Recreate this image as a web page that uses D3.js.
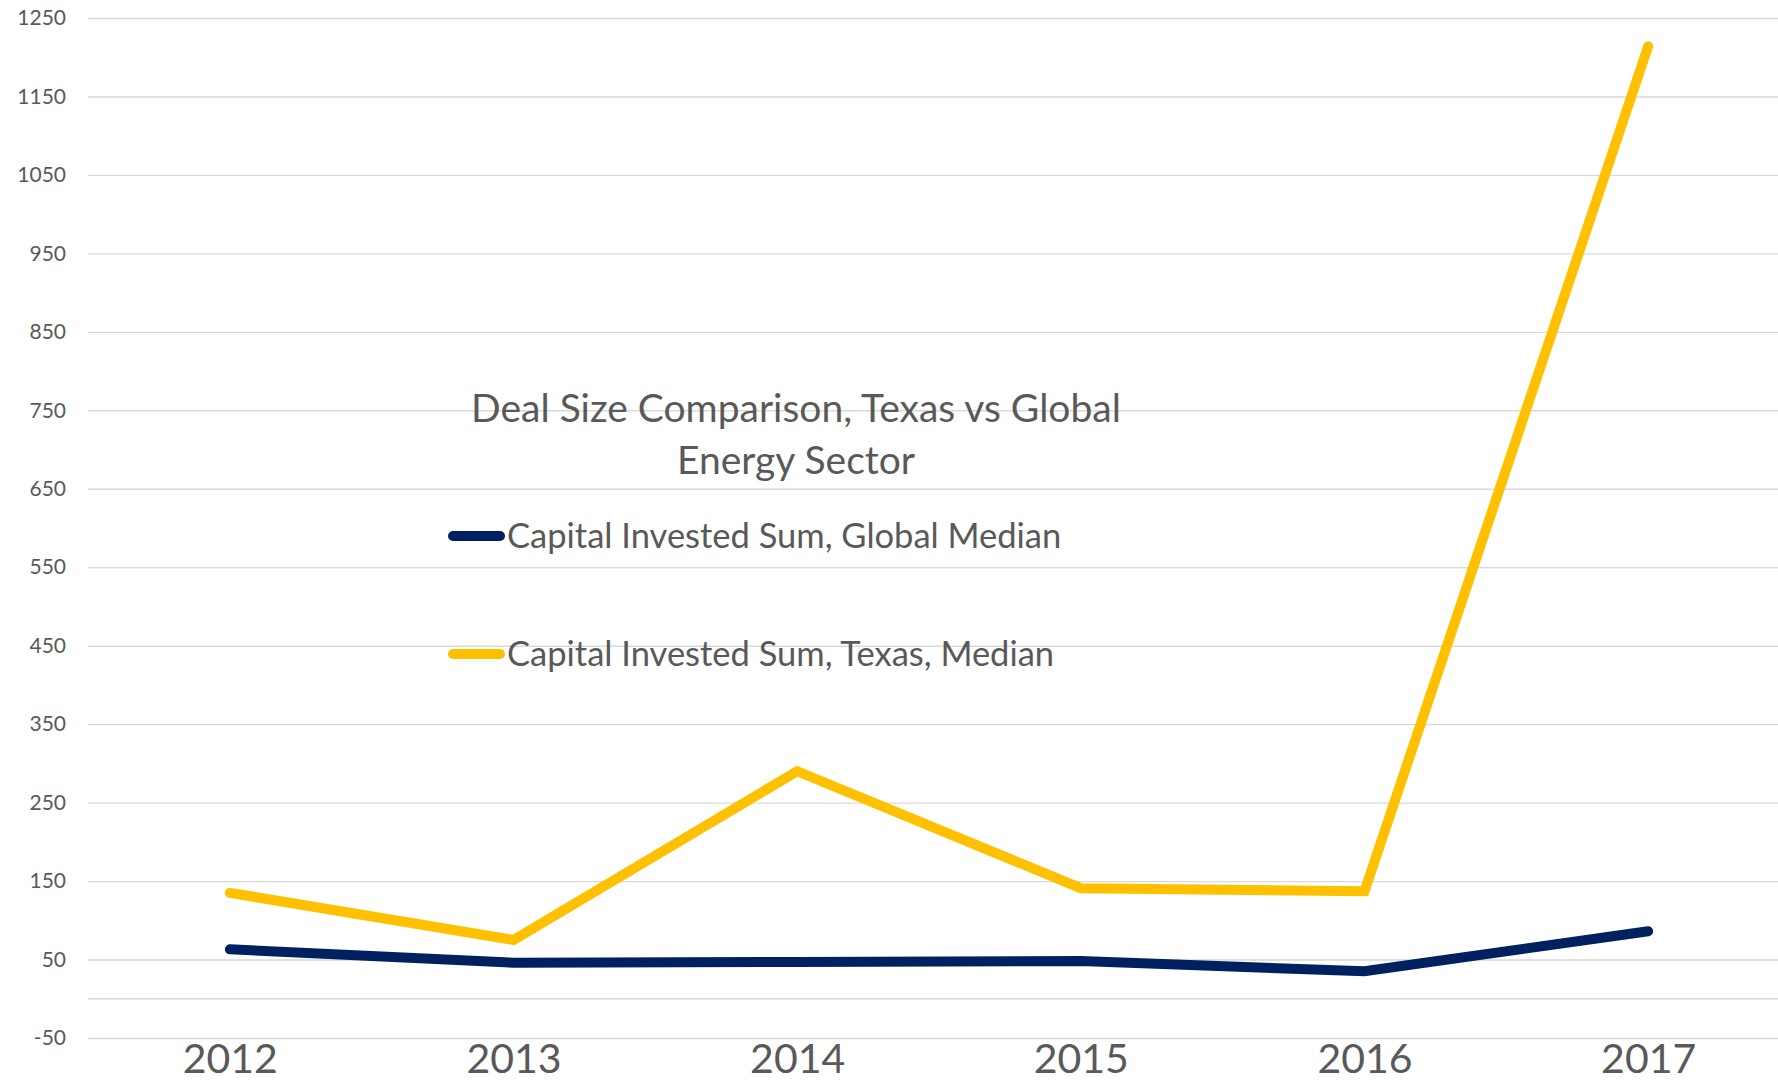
<!DOCTYPE html>
<html>
<head>
<meta charset="utf-8">
<script src="https://cdn.jsdelivr.net/npm/d3@7"></script>
<style>
  body { margin: 0; background: #fff; }
  #chart { width: 1778px; height: 1081px; overflow: hidden; }
  text { font-family: Lato, "Open Sans", sans-serif; fill: #595959; }
</style>
</head>
<body>
<div id="chart"></div>
<script>
// data
var years = ['2012', '2013', '2014', '2015', '2016', '2017'];
var globalMedian = [63, 46, 47, 48, 35, 86];
var texasMedian = [135, 75, 290, 141, 137, 1214];
var yTicks = [-50, 50, 150, 250, 350, 450, 550, 650, 750, 850, 950, 1050, 1150, 1250];
var titleLines = ['Deal Size Comparison, Texas vs Global', 'Energy Sector'];
var seriesNames = ['Capital Invested Sum, Global Median', 'Capital Invested Sum, Texas, Median'];
var seriesColors = ['#002060', '#FFC000'];

var Chart = function() {

    var _Chart = function (opts) {
        this.element = opts.element;
        this.__init();
    }

    _Chart.prototype = {
        __init: function() {
            this.width = 1778;
            this.height = 1081;
            this.margin = { top: 18, right: -12, bottom: 43, left: 88 };

            this.element.innerHTML = '';
            this.svg = d3.select(this.element)
                .append('svg')
                .attr('width', this.width)
                .attr('height', this.height);

            this.plat = this.svg.append('g')
                .attr('transform', 'translate(' + this.margin.left + ',' + this.margin.top + ')');

            this.__createScales();
            this.__addAxes();
            this.__addLines();
            this.__addTitle();
            this.__addLegend();
        },
        __createScales: function() {
            var m = this.margin;
            this.innerW = this.width - m.left - m.right;
            this.innerH = this.height - m.top - m.bottom;

            this.xScale = d3.scalePoint()
                .domain(years)
                .range([0, this.innerW])
                .padding(0.5);

            this.yScale = d3.scaleLinear()
                .domain([-50, 1250])
                .range([this.innerH, 0]);
        },
        __addAxes: function() {
            // gridlines
            var grid = d3.axisLeft(this.yScale)
                .tickValues(yTicks)
                .tickSize(-this.innerW)
                .tickFormat('');
            var g = this.plat.append('g').attr('class', 'grid').call(grid);
            g.select('.domain').remove();
            g.selectAll('line').attr('stroke', '#d9d9d9').attr('stroke-width', 1.4);

            // horizontal axis line at zero
            this.plat.append('line')
                .attr('x1', 0)
                .attr('x2', this.innerW)
                .attr('y1', this.yScale(0))
                .attr('y2', this.yScale(0))
                .attr('stroke', '#d9d9d9')
                .attr('stroke-width', 1.4);

            // y labels
            var yAxis = d3.axisLeft(this.yScale)
                .tickValues(yTicks)
                .tickSize(0)
                .tickPadding(22)
                .tickFormat(function (d) { return String(d); });
            var ya = this.plat.append('g').attr('class', 'y-axis').call(yAxis);
            ya.select('.domain').remove();
            ya.selectAll('text')
                .attr('font-size', 21)
                .attr('font-family', 'Lato, sans-serif')
                .attr('fill', '#595959');

            // x labels
            var xAxis = d3.axisBottom(this.xScale).tickSize(0).tickPadding(6);
            var xa = this.plat.append('g')
                .attr('class', 'x-axis')
                .attr('transform', 'translate(0,' + this.innerH + ')')
                .call(xAxis);
            xa.select('.domain').remove();
            xa.selectAll('text')
                .attr('font-size', 41)
                .attr('font-family', 'Lato, sans-serif')
                .attr('fill', '#595959');
        },
        __addLines: function() {
            var _this = this;
            var line = d3.line()
                .x(function (d, i) { return _this.xScale(years[i]); })
                .y(function (d) { return _this.yScale(d); });

            [globalMedian, texasMedian].forEach(function (vals, k) {
                _this.plat.append('path')
                    .attr('class', 'line')
                    .attr('d', line(vals))
                    .style('fill', 'none')
                    .style('stroke', seriesColors[k])
                    .style('stroke-width', 10)
                    .style('stroke-linecap', 'round')
                    .style('stroke-linejoin', 'miter');
            });
        },
        __addTitle: function() {
            var t = this.svg.append('text')
                .attr('x', 796)
                .attr('y', 422)
                .attr('text-anchor', 'middle')
                .attr('font-size', 39);
            titleLines.forEach(function (s, i) {
                t.append('tspan').attr('x', 796).attr('dy', i ? 52 : 0).text(s);
            });
        },
        __addLegend: function() {
            var _this = this;
            var rows = [536, 654];
            seriesNames.forEach(function (name, i) {
                var g = _this.svg.append('g');
                g.append('line')
                    .attr('x1', 453).attr('x2', 500)
                    .attr('y1', rows[i]).attr('y2', rows[i])
                    .attr('stroke', seriesColors[i])
                    .attr('stroke-width', 10)
                    .attr('stroke-linecap', 'round');
                g.append('text')
                    .attr('x', 507)
                    .attr('y', rows[i] + 12)
                    .attr('font-size', 34.5)
                    .text(name);
            });
        }
    }

    return _Chart;
}.call(this);

new Chart({ element: document.getElementById('chart') });
</script>
</body>
</html>
